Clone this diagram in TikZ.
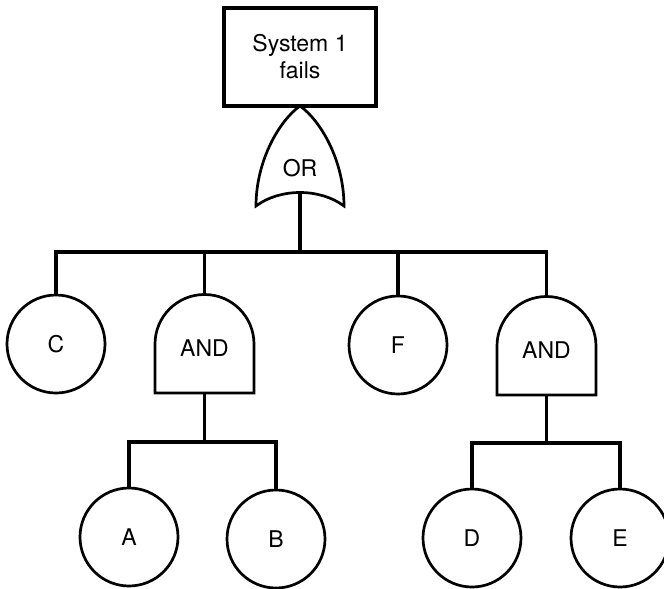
\documentclass[tikz,border=0pt]{standalone}
\usepackage{fontspec}
\setmainfont{TeX Gyre Heros}
\begin{document}
\begin{tikzpicture}[x=1pt,y=1pt,
  ln/.style={line width=2.7pt, line join=miter},
  bus/.style={line width=3.3pt},
  event/.style={circle, draw, ln, minimum size=98pt, inner sep=0pt, outer sep=0pt},
  topbox/.style={rectangle, draw, line width=3.2pt, minimum width=152pt,
                 minimum height=98pt, align=center, inner sep=0pt, outer sep=0pt},
  andgate/.style={rectangle, minimum width=99pt, minimum height=98pt, inner sep=0pt,
                  outer sep=0pt, text height=24.5pt, text depth=0pt},
  every node/.append style={font=\fontsize{23}{27}\selectfont}]
\useasboundingbox (0,0) rectangle (664,-589);

% top event
\node[topbox] (top) at (300,-57) {System 1\\fails};

% OR gate under the top event
\draw[ln] (300,-106) .. controls (280,-120) and (256,-160) .. (256,-206)
  .. controls (280,-188) and (320,-188) .. (344,-206)
  .. controls (344,-160) and (320,-120) .. (300,-106) -- cycle;
\node (ortext) at (300,-168) {OR};
\coordinate (orout) at (300,-194);

% first level: events and AND gates
\node[event] (c) at (56,-344) {C};
\node[andgate] (and1) at (204.5,-344) {AND};
\node[event] (f) at (398,-345) {F};
\node[andgate] (and2) at (546.5,-346) {AND};
\foreach \g in {and1,and2}
  \draw[ln] (\g.south west) -- (\g.west) arc[start angle=180, end angle=0, radius=49.5]
    -- (\g.south east) -- cycle;

% basic events
\node[event] (a) at (129,-537) {A};
\node[event] (b) at (276,-539) {B};
\node[event] (d) at (472,-538) {D};
\node[event] (e) at (620,-538) {E};

% connectors below the OR gate
\coordinate (busT) at (300,-252);
\draw[bus] (c.north) |- (and2.north |- busT) -- (and2.north);
\draw[bus] (and1.north) -- (and1.north |- busT);
\draw[bus] (f.north) -- (f.north |- busT);
\draw[bus] (orout) -- (busT);

% connectors below the AND gates
\coordinate (busL) at (204.5,-442);
\draw[bus] (a.north) |- (b.north |- busL) -- (b.north);
\draw[bus] (and1.south) -- (busL);
\coordinate (busR) at (546.5,-443);
\draw[bus] (d.north) |- (e.north |- busR) -- (e.north);
\draw[bus] (and2.south) -- (busR);
\end{tikzpicture}
\end{document}
